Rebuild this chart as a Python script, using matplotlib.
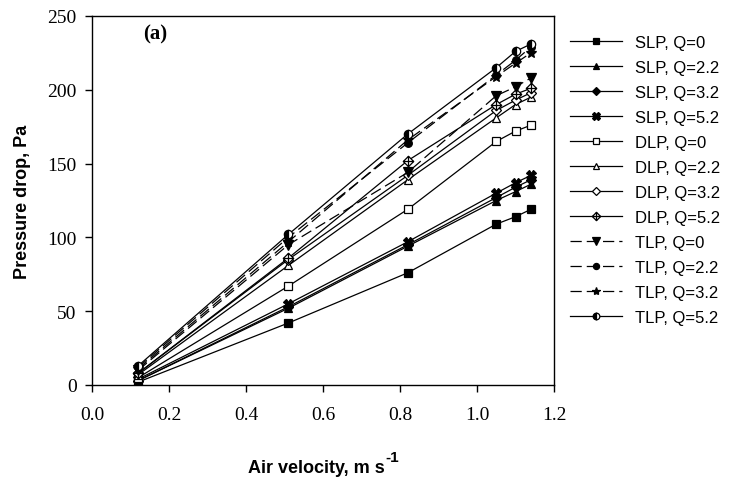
import numpy as np
import matplotlib
matplotlib.use("Agg")
import matplotlib.pyplot as plt
from matplotlib.path import Path

# air velocity (m/s) and pressure drop (Pa)
velocity = [0.12, 0.51, 0.82, 1.05, 1.10, 1.14]

slp_q0 = [2, 42, 76, 109, 114, 119]
slp_q22 = [3, 52, 94, 125, 131, 136]
slp_q32 = [3, 53, 95, 127, 134, 139]
slp_q52 = [4, 55, 97, 130, 137, 142]
dlp_q0 = [5, 67, 119, 165, 172, 176]
dlp_q22 = [7, 81, 139, 181, 190, 195]
dlp_q32 = [8, 85, 142, 186, 193, 198]
dlp_q52 = [8, 86, 152, 190, 197, 201]
tlp_q0 = [10, 95, 144, 196, 202, 208]
tlp_q22 = [12, 100, 164, 210, 220, 229]
tlp_q32 = [11, 97, 166, 209, 218, 225]
tlp_q52 = [13, 102, 170, 215, 226, 231]

labels = ["SLP, Q=0", "SLP, Q=2.2", "SLP, Q=3.2", "SLP, Q=5.2",
          "DLP, Q=0", "DLP, Q=2.2", "DLP, Q=3.2", "DLP, Q=5.2",
          "TLP, Q=0", "TLP, Q=2.2", "TLP, Q=3.2", "TLP, Q=5.2"]
series = [slp_q0, slp_q22, slp_q32, slp_q52,
          dlp_q0, dlp_q22, dlp_q32, dlp_q52,
          tlp_q0, tlp_q22, tlp_q32, tlp_q52]

# diamond with a cross inside
crossed_diamond = Path(
    [(0, 1), (1, 0), (0, -1), (-1, 0), (0, 1), (0, -1), (0, 1), (-1, 0), (1, 0)],
    [Path.MOVETO, Path.LINETO, Path.LINETO, Path.LINETO, Path.CLOSEPOLY,
     Path.MOVETO, Path.LINETO, Path.MOVETO, Path.LINETO],
)

dash = (0, (9, 4))
styles = [
    dict(marker="s", mfc="black", ms=5.5, ls="-"),
    dict(marker="^", mfc="black", ms=6, ls="-"),
    dict(marker="D", mfc="black", ms=5, ls="-"),
    dict(marker="X", mfc="black", ms=6.5, ls="-"),
    dict(marker="s", mfc="white", ms=5.5, ls="-"),
    dict(marker="^", mfc="white", ms=6, ls="-"),
    dict(marker="D", mfc="white", ms=5, ls="-"),
    dict(marker=crossed_diamond, mfc="white", ms=7.5, ls="-"),
    dict(marker="v", mfc="black", ms=6.5, ls=dash),
    dict(marker="o", mfc="black", ms=5.5, ls=dash),
    dict(marker="*", mfc="black", ms=7.5, ls=dash),
    dict(marker="o", mfc="black", ms=6, ls="-", fillstyle="left", markerfacecoloralt="white"),
]

fig = plt.figure(figsize=(7.37, 4.81), dpi=100)
ax = fig.add_axes([92 / 737, 1 - 386 / 481, (554 - 92) / 737, (386 - 17) / 481])

for vals, lab, st in zip(series, labels, styles):
    ax.plot(velocity, vals, color="black", lw=0.9, mec="black", mew=0.9,
            label=lab, **st)

ax.set_xlim(0, 1.2)
ax.set_ylim(0, 250)
ax.set_xticks(np.arange(0, 1.21, 0.2))
ax.set_yticks(np.arange(0, 251, 50))
ax.xaxis.set_major_formatter(matplotlib.ticker.FormatStrFormatter("%.1f"))
for lbl in ax.get_xticklabels() + ax.get_yticklabels():
    lbl.set_fontfamily("Liberation Serif")
    lbl.set_fontsize(14)
ax.tick_params(axis="x", direction="out", length=5, width=1, pad=10)
ax.tick_params(axis="y", direction="out", length=5, width=1, pad=6)
for sp in ax.spines.values():
    sp.set_linewidth(1)

ax.set_ylabel("Pressure drop, Pa", fontfamily="Liberation Sans",
              fontweight="bold", fontsize=13, labelpad=12)
ax.text(0.164, 238, "(a)", fontfamily="Liberation Serif", fontweight="bold",
        fontsize=15, ha="center", va="center")

# x label with a raised "-1" drawn as its own text
xlab = fig.text(316 / 737, 1 - 473 / 481, "Air velocity, m s", ha="center",
                va="baseline", fontfamily="Liberation Sans", fontweight="bold",
                fontsize=13)
renderer = fig.canvas.get_renderer()
bb = xlab.get_window_extent(renderer).transformed(fig.transFigure.inverted())
fig.text(bb.x1 + 1 / 737, 1 - 462 / 481, "-1", ha="left", va="baseline",
         fontfamily="Liberation Sans", fontweight="bold", fontsize=11)

fig.legend(loc="upper left", bbox_to_anchor=(570 / 737, 1 - 36 / 481),
           frameon=False, prop={"family": "Liberation Sans", "size": 12},
           handlelength=3.1, handletextpad=0.8, labelspacing=0.6,
           borderaxespad=0, borderpad=0, markerscale=0.8)

fig.savefig("out.png", dpi=100)
